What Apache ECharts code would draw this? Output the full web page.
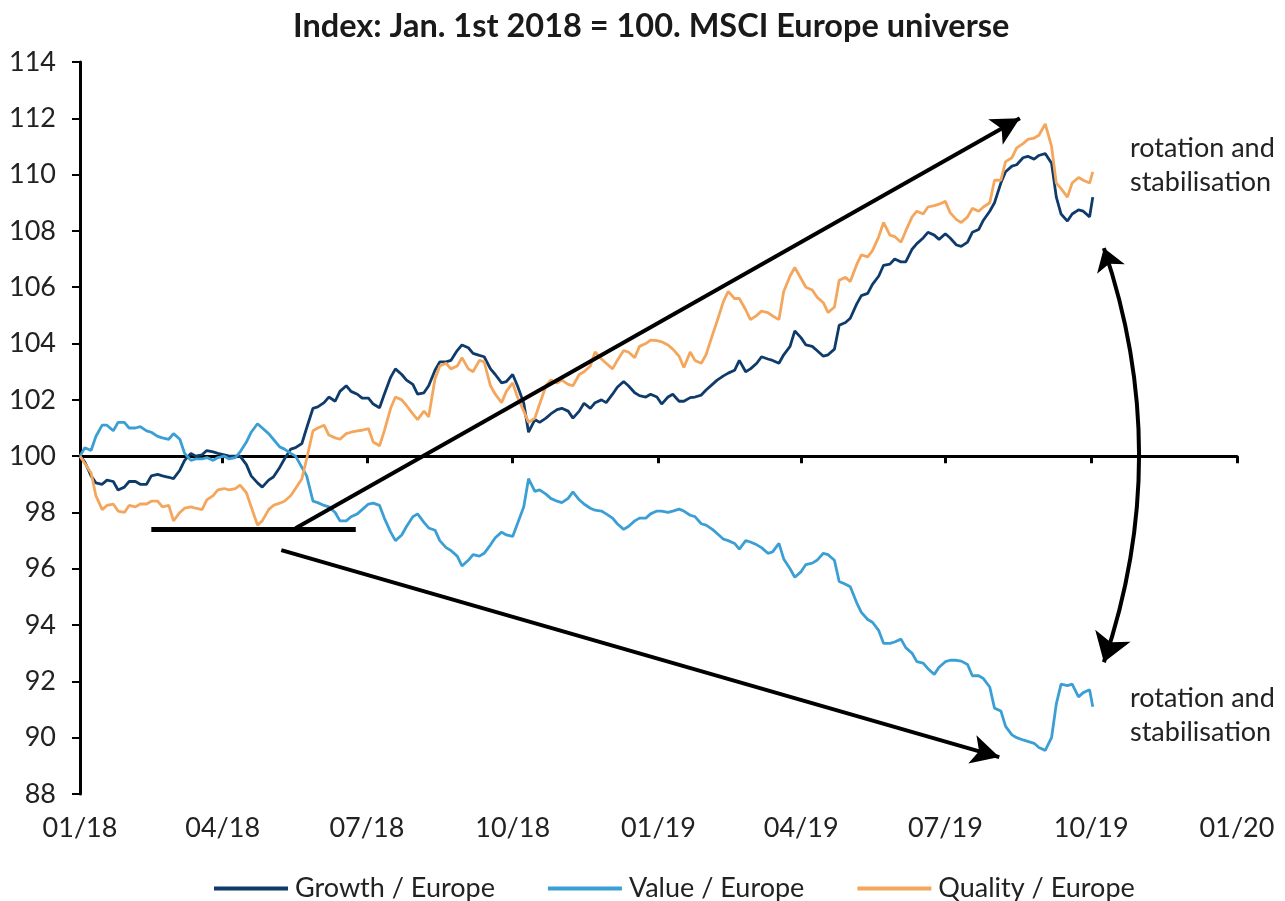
<!DOCTYPE html>
<html>
<head>
<meta charset="utf-8">
<script src="https://cdn.jsdelivr.net/npm/echarts@6/dist/echarts.min.js"></script>
<style>
html,body{margin:0;padding:0;background:#fff;}
#chart{width:1285px;height:901px;}
</style>
</head>
<body>
<div id="chart"></div>
<script>
// ---------- DATA ----------
const titleText = 'Index: Jan. 1st 2018 = 100. MSCI Europe universe';
const seriesNames = ['Growth / Europe', 'Value / Europe', 'Quality / Europe'];
const dates = [
'2018-01-01','2018-01-04','2018-01-08','2018-01-11','2018-01-15','2018-01-18','2018-01-22','2018-01-25','2018-01-29','2018-02-01',
'2018-02-05','2018-02-08','2018-02-12','2018-02-15','2018-02-19','2018-02-22','2018-02-26','2018-03-01','2018-03-05','2018-03-08',
'2018-03-12','2018-03-15','2018-03-19','2018-03-22','2018-03-26','2018-03-29','2018-04-02','2018-04-05','2018-04-09','2018-04-12',
'2018-04-16','2018-04-19','2018-04-23','2018-04-26','2018-04-30','2018-05-03','2018-05-07','2018-05-10','2018-05-14','2018-05-17',
'2018-05-21','2018-05-24','2018-05-28','2018-05-31','2018-06-04','2018-06-07','2018-06-11','2018-06-14','2018-06-18','2018-06-21',
'2018-06-25','2018-06-28','2018-07-02','2018-07-05','2018-07-09','2018-07-12','2018-07-16','2018-07-19','2018-07-23','2018-07-26',
'2018-07-30','2018-08-02','2018-08-06','2018-08-09','2018-08-13','2018-08-16','2018-08-20','2018-08-23','2018-08-27','2018-08-30',
'2018-09-03','2018-09-06','2018-09-10','2018-09-13','2018-09-17','2018-09-20','2018-09-24','2018-09-27','2018-10-01','2018-10-04',
'2018-10-08','2018-10-11','2018-10-15','2018-10-18','2018-10-22','2018-10-25','2018-10-29','2018-11-01','2018-11-05','2018-11-08',
'2018-11-12','2018-11-15','2018-11-19','2018-11-22','2018-11-26','2018-11-29','2018-12-03','2018-12-06','2018-12-10','2018-12-13',
'2018-12-17','2018-12-20','2018-12-24','2018-12-27','2018-12-31','2019-01-03','2019-01-07','2019-01-10','2019-01-14','2019-01-17',
'2019-01-21','2019-01-24','2019-01-28','2019-01-31','2019-02-04','2019-02-07','2019-02-11','2019-02-14','2019-02-18','2019-02-21',
'2019-02-25','2019-02-28','2019-03-04','2019-03-07','2019-03-11','2019-03-14','2019-03-18','2019-03-21','2019-03-25','2019-03-28',
'2019-04-01','2019-04-04','2019-04-08','2019-04-11','2019-04-15','2019-04-18','2019-04-22','2019-04-25','2019-04-29','2019-05-02',
'2019-05-06','2019-05-09','2019-05-13','2019-05-16','2019-05-20','2019-05-23','2019-05-27','2019-05-30','2019-06-03','2019-06-06',
'2019-06-10','2019-06-13','2019-06-17','2019-06-20','2019-06-24','2019-06-27','2019-07-01','2019-07-04','2019-07-08','2019-07-11',
'2019-07-15','2019-07-18','2019-07-22','2019-07-25','2019-07-29','2019-08-01','2019-08-05','2019-08-08','2019-08-12','2019-08-15',
'2019-08-19','2019-08-22','2019-08-26','2019-08-29','2019-09-02','2019-09-06','2019-09-09','2019-09-12','2019-09-16','2019-09-19',
'2019-09-23','2019-09-26','2019-09-30','2019-10-02'
];
const growth = [
100, 99.8, 99.3, 99.05, 99.0, 99.15, 99.1, 98.8, 98.9, 99.1,
99.1, 99.0, 99.0, 99.3, 99.35, 99.3, 99.25, 99.2, 99.5, 99.85,
100.1, 100.0, 100.05, 100.2, 100.15, 100.1, 100.05, 100.0, 100.0, 100.0,
99.7, 99.3, 99.05, 98.9, 99.15, 99.26, 99.6, 99.9, 100.25, 100.3,
100.45, 101.0, 101.7, 101.75, 101.9, 102.1, 101.95, 102.3, 102.5, 102.3,
102.2, 102.06, 102.06, 101.85, 101.72, 102.2, 102.8, 103.1, 102.9, 102.7,
102.55, 102.2, 102.25, 102.5, 103.05, 103.35, 103.35, 103.4, 103.75, 103.95,
103.85, 103.65, 103.58, 103.53, 103.1, 102.9, 102.6, 102.65, 102.9, 102.5,
101.88, 100.85, 101.3, 101.2, 101.35, 101.5, 101.65, 101.7, 101.6, 101.35,
101.6, 101.88, 101.7, 101.9, 102.0, 101.9, 102.2, 102.45, 102.65, 102.5,
102.25, 102.15, 102.1, 102.2, 102.1, 101.85, 102.1, 102.2, 101.95, 101.95,
102.08, 102.1, 102.17, 102.35, 102.55, 102.7, 102.85, 102.95, 103.05, 103.4,
103.0, 103.1, 103.3, 103.53, 103.45, 103.4, 103.3, 103.6, 103.9, 104.45,
104.2, 103.95, 103.9, 103.75, 103.55, 103.6, 103.8, 104.65, 104.75, 104.9,
105.4, 105.7, 105.78, 106.1, 106.4, 106.78, 106.82, 107.0, 106.9, 106.9,
107.35, 107.55, 107.75, 107.95, 107.85, 107.7, 107.9, 107.75, 107.5, 107.45,
107.6, 107.95, 108.05, 108.38, 108.7, 109.0, 109.7, 110.1, 110.3, 110.35,
110.6, 110.65, 110.55, 110.68, 110.75, 110.4, 109.2, 108.6, 108.35, 108.6,
108.75, 108.7, 108.5, 109.2
];
const value = [
100, 100.3, 100.2, 100.7, 101.1, 101.1, 100.9, 101.2, 101.2, 101.0,
101.0, 101.05, 100.9, 100.85, 100.7, 100.65, 100.6, 100.8, 100.6, 100.1,
99.85, 99.9, 99.9, 99.95, 99.85, 99.95, 100.0, 99.9, 99.95, 100.15,
100.5, 100.85, 101.15, 101.0, 100.8, 100.6, 100.33, 100.25, 100.1, 100.0,
99.6, 99.3, 98.4, 98.35, 98.25, 98.2, 98.0, 97.7, 97.7, 97.85,
97.95, 98.1, 98.3, 98.33, 98.25, 97.8, 97.3, 97.0, 97.2, 97.5,
97.85, 97.95, 97.65, 97.45, 97.37, 97.0, 96.75, 96.65, 96.45, 96.1,
96.3, 96.5, 96.45, 96.55, 96.85, 97.1, 97.3, 97.2, 97.15, 97.6,
98.2, 99.2, 98.75, 98.8, 98.65, 98.5, 98.4, 98.35, 98.5, 98.73,
98.45, 98.3, 98.15, 98.08, 98.05, 97.95, 97.8, 97.6, 97.4, 97.5,
97.7, 97.8, 97.8, 97.95, 98.05, 98.05, 98.0, 98.05, 98.12, 98.05,
97.9, 97.85, 97.6, 97.55, 97.4, 97.25, 97.05, 97.0, 96.9, 96.7,
97.0, 96.95, 96.85, 96.75, 96.55, 96.6, 96.9, 96.35, 96.0, 95.7,
95.9, 96.15, 96.2, 96.3, 96.55, 96.5, 96.3, 95.55, 95.45, 95.36,
94.8, 94.45, 94.2, 94.1, 93.8, 93.35, 93.35, 93.4, 93.5, 93.2,
93.0, 92.7, 92.65, 92.45, 92.25, 92.5, 92.7, 92.75, 92.75, 92.72,
92.6, 92.2, 92.2, 92.1, 91.8, 91.05, 90.95, 90.4, 90.1, 90.0,
89.92, 89.87, 89.8, 89.65, 89.55, 90.0, 91.2, 91.9, 91.85, 91.9,
91.45, 91.6, 91.7, 91.1
];
const quality = [
100, 99.75, 99.4, 98.6, 98.1, 98.25, 98.3, 98.05, 98.0, 98.25,
98.2, 98.3, 98.3, 98.4, 98.4, 98.2, 98.25, 97.7, 98.0, 98.15,
98.2, 98.15, 98.1, 98.45, 98.6, 98.8, 98.85, 98.8, 98.85, 98.97,
98.7, 98.2, 97.55, 97.7, 98.1, 98.25, 98.33, 98.4, 98.6, 98.85,
99.2, 99.9, 100.9, 101.0, 101.1, 100.75, 100.65, 100.6, 100.8, 100.85,
100.9, 100.92, 100.98, 100.5, 100.37, 100.9, 101.7, 102.1, 102.0, 101.8,
101.5, 101.3, 101.6, 101.4, 102.75, 103.2, 103.3, 103.1, 103.2, 103.5,
103.1, 103.0, 103.4, 103.35, 102.5, 102.2, 101.9, 102.3, 102.6, 102.1,
101.6, 101.2, 101.35, 101.85, 102.5, 102.7, 102.6, 102.7, 102.55, 102.5,
102.9, 103.0, 103.2, 103.7, 103.45, 103.3, 103.1, 103.4, 103.75, 103.7,
103.5, 103.9, 104.0, 104.12, 104.1, 104.06, 103.95, 103.8, 103.55, 103.15,
103.7, 103.4, 103.3, 103.6, 104.3, 104.8, 105.5, 105.85, 105.6, 105.6,
105.2, 104.85, 105.0, 105.15, 105.1, 104.98, 104.85, 105.85, 106.4, 106.7,
106.3, 106.0, 105.9, 105.65, 105.45, 105.1, 105.3, 106.25, 106.35, 106.2,
106.8, 107.15, 107.08, 107.3, 107.8, 108.3, 107.85, 107.8, 107.6, 108.0,
108.5, 108.7, 108.6, 108.85, 108.9, 108.95, 109.05, 108.65, 108.4, 108.3,
108.5, 108.8, 108.7, 108.85, 109.0, 109.8, 109.8, 110.46, 110.6, 110.95,
111.1, 111.25, 111.3, 111.4, 111.8, 111.0, 109.7, 109.5, 109.2, 109.7,
109.9, 109.8, 109.7, 110.1
];
const tickDates = ['2018-01-01','2018-04-01','2018-07-01','2018-10-01','2019-01-01','2019-04-01','2019-07-01','2019-10-01','2020-01-01'];
const xMin = '2018-01-01', xMax = '2020-01-01';
const yMin = 88, yMax = 114, yStep = 2, yCross = 100;
// annotations (date, index value)
const flatLine = [['2018-02-15', 97.4], ['2018-06-24', 97.4]];
const arrowUp = [['2018-05-17', 97.44], ['2019-08-17', 112.0]];
const arrowDown = [['2018-05-08', 96.66], ['2019-08-04', 89.31]];
const arrowCurve = [['2019-10-09', 107.39], ['2019-10-09', 92.68]];
const noteText = 'rotation and\nstabilisation';

// ---------- CHART ----------
const toTs = s => { const p = s.split('-').map(Number); return new Date(p[0], p[1]-1, p[2]).getTime(); };
const pad = n => (n < 10 ? '0' : '') + n;
const fmt = v => { const d = new Date(v); return pad(d.getMonth()+1) + '/' + pad(d.getFullYear() % 100); };
const tickTs = tickDates.map(toTs);
const FONT = 'Lato';
const FS = 27;
const colors = ['#0f3b6b', '#3b9fd5', '#f4a75c'];
const gridTop = 62, gridBottom = 107, chartH = 901;
const gridH = chartH - gridTop - gridBottom;
const crossOffset = -gridH * (yCross - yMin) / (yMax - yMin);

const mkLine = (pts, endSym) => [
  {coord: [toTs(pts[0][0]), pts[0][1]], symbol: endSym[0]},
  {coord: [toTs(pts[1][0]), pts[1][1]], symbol: endSym[1]}
];
const markBase = (width, items) => ({
  silent: true, animation: false, symbolSize: [22, 28],
  label: {show: false}, emphasis: {disabled: true},
  lineStyle: {color: '#000', width: width, type: 'solid'},
  data: items
});
const marks = [
  markBase(4, [mkLine(arrowUp, ['none', 'arrow']), mkLine(arrowDown, ['none', 'arrow'])]),
  null,
  markBase(5, [mkLine(flatLine, ['none', 'none'])])
];

const chart = echarts.init(document.getElementById('chart'), null, {renderer: 'canvas'});
const seriesData = [growth, value, quality];
const lineSeries = seriesNames.map((name, k) => {
  const s = {
    name, type: 'line', xAxisIndex: 0, showSymbol: false, symbol: 'none',
    lineStyle: {width: 2.8, color: colors[k]}, itemStyle: {color: colors[k]},
    data: dates.map((d, i) => [toTs(d), seriesData[k][i]]),
    z: 3
  };
  if (marks[k]) s.markLine = marks[k];
  return s;
});
lineSeries.push({
  type: 'lines', coordinateSystem: 'cartesian2d', xAxisIndex: 0, yAxisIndex: 0,
  silent: true, z: 4, symbol: ['arrow', 'arrow'], symbolSize: [22, 28],
  lineStyle: {color: '#000', width: 4, curveness: 0.17, opacity: 1},
  data: [{coords: arrowCurve.map(p => [toTs(p[0]), p[1]])}]
});

const option = {
  backgroundColor: '#fff',
  animation: false,
  color: colors,
  title: {
    text: titleText, left: 288, top: 5,
    textStyle: {fontFamily: FONT, fontWeight: 'bold', fontSize: 32.5, color: '#1a1a1a'}
  },
  grid: {left: 80, right: 48, top: gridTop, bottom: gridBottom},
  legend: {
    left: 209, top: 870, itemGap: 53, itemWidth: 74, itemHeight: 4, icon: 'rect',
    textStyle: {fontFamily: FONT, fontSize: FS, color: '#222', padding: [0, 0, 0, 2]},
    data: seriesNames
  },
  xAxis: [
    {
      type: 'value', min: toTs(xMin), max: toTs(xMax), position: 'bottom',
      axisLine: {show: false}, axisTick: {show: false}, splitLine: {show: false},
      axisLabel: {customValues: tickTs, formatter: fmt, fontFamily: FONT, fontSize: FS, color: '#222', margin: 21, showMinLabel: true, showMaxLabel: true}
    },
    {
      type: 'value', min: toTs(xMin), max: toTs(xMax), position: 'bottom', offset: crossOffset,
      axisLine: {show: true, lineStyle: {color: '#000', width: 3}},
      axisTick: {show: true, customValues: tickTs, length: 7, lineStyle: {color: '#000', width: 3}},
      axisLabel: {show: false}, splitLine: {show: false}
    }
  ],
  yAxis: {
    type: 'value', min: yMin, max: yMax, interval: yStep,
    axisLine: {show: true, lineStyle: {color: '#000', width: 3}},
    axisTick: {show: true, length: 8, lineStyle: {color: '#000', width: 2}},
    axisLabel: {fontFamily: FONT, fontSize: FS, color: '#222', margin: 24},
    splitLine: {show: false}
  },
  series: lineSeries,
  graphic: [
    {type: 'text', left: 1130, top: 131, style: {text: noteText, font: FS + 'px Lato', lineHeight: 34, fill: '#222'}},
    {type: 'text', left: 1130, top: 681, style: {text: noteText, font: FS + 'px Lato', lineHeight: 34, fill: '#222'}}
  ]
};
chart.setOption(option);
</script>
</body>
</html>
